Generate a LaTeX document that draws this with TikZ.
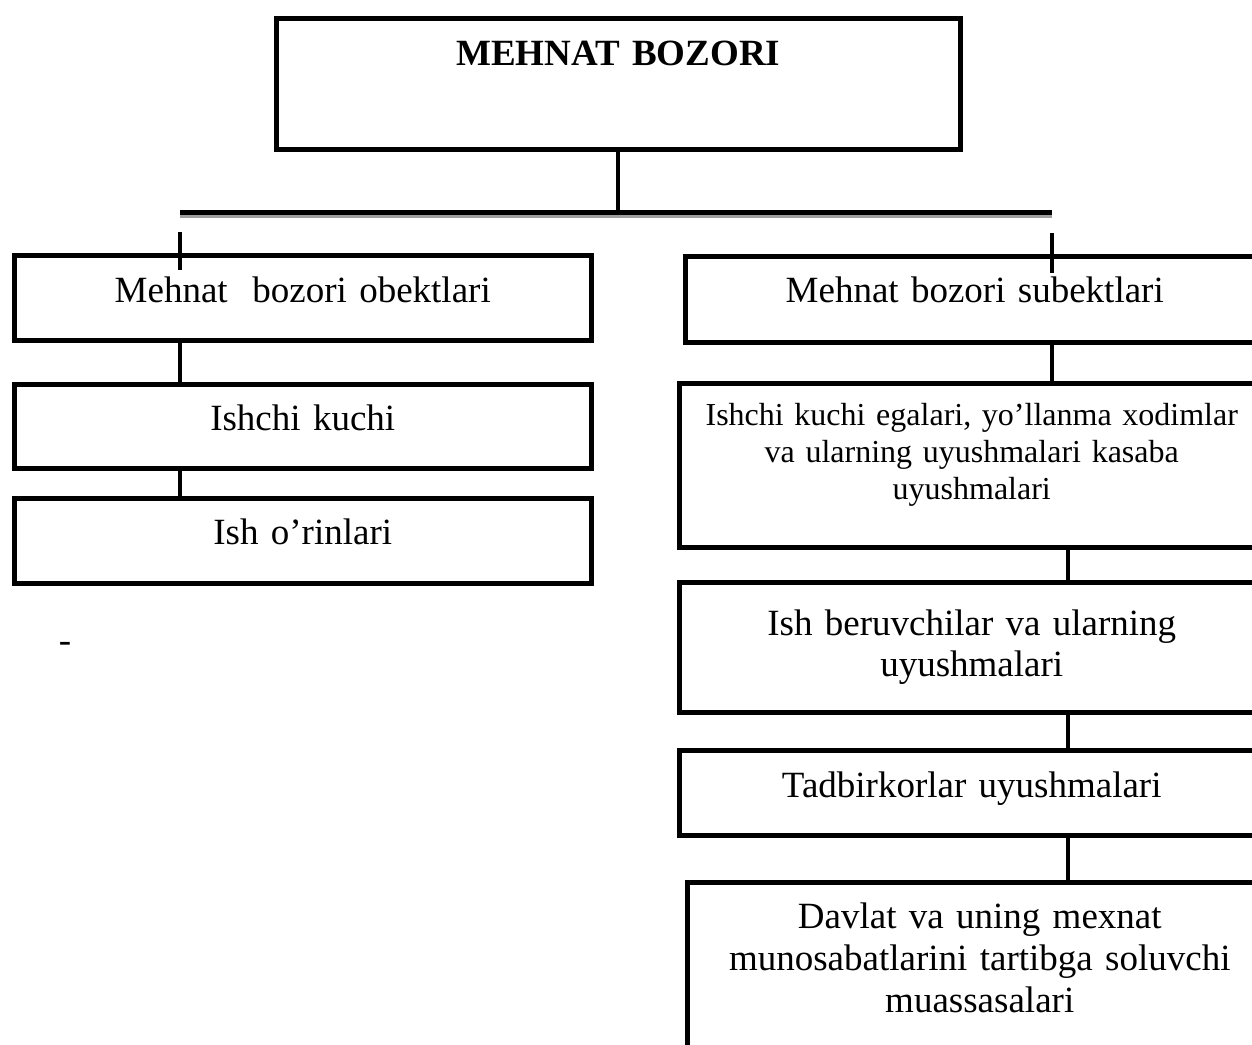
\documentclass[tikz,border=0pt]{standalone}
\usepackage{fontspec}
\setmainfont{Liberation Serif}
\usetikzlibrary{calc}
\tikzset{every path/.style={black, line width=4pt},
  every node/.style={inner sep=0pt, font=\fontsize{37}{41}\selectfont},
  box/.style={draw, line width=4.5pt, align=center, anchor=north west},
  link/.style={line width=4pt},
  bar/.style={line width=5pt},
  barshadow/.style={gray!75, line width=4pt}}

\begin{document}
\begin{tikzpicture}[x=1pt,y=-1pt]
   \useasboundingbox (0,0) rectangle (1252,1044);
   \node[box, text width=684pt, text height=47pt, text depth=84pt, font=\fontsize{37}{41}\selectfont\bfseries] (mb) at (274,16) {MEHNAT BOZORI};
   \coordinate (barL) at (180,212);
   \coordinate (barR) at (1052,212);
   \coordinate (spine) at (1068,0);
   \draw[barshadow] ($(barL)+(0,4)$) -- ($(barR)+(0,4)$);
   \draw[bar] (barL) -- (barR);
   \draw[link] (mb.south) -- (mb.south |- barL);
   \begin{scope}
    \node[box, text width=577pt, text height=47pt, text depth=38pt] (ob) at (12,253) {Mehnat~ bozori obektlari};
    \node[box, text width=577pt, text height=46pt, text depth=38pt] (ik) at (12,382) {Ishchi kuchi};
    \node[box, text width=577pt, text height=46pt, text depth=39pt] (io) at (12,496) {Ish o’rinlari};
    \draw[link] ($(barL |- ob.north)+(0,-21)$) -- ($(barL |- ob.north)+(0,17)$);
    \draw[link] (barL |- ob.south) -- (barL |- ik.north);
    \draw[link] (barL |- ik.south) -- (barL |- io.north);
    \node[anchor=base] (dash) at (65,652) {-};
   \end{scope}
   \begin{scope}
    \node[box, text width=579pt, text height=46pt, text depth=40pt] (sb) at (683,254) {Mehnat bozori subektlari};
    \node[box, text width=585pt, text height=42pt, text depth=122pt, font=\fontsize{32}{37}\selectfont] (ie) at (677,381) {Ishchi kuchi egalari, yo’llanma xodimlar\\ va ularning uyushmalari kasaba\\ uyushmalari};
    \node[box, text width=585pt, text height=53pt, text depth=77pt] (ib) at (677,580) {Ish beruvchilar va ularning\\ uyushmalari};
    \node[box, text width=585pt, text height=47pt, text depth=38pt] (tu) at (677,748) {Tadbirkorlar uyushmalari};
    \node[box, text width=585pt, text height=46pt, text depth=144pt, font=\fontsize{37}{42}\selectfont] (dm) at (685,880) {Davlat va uning mexnat\\ munosabatlarini tartibga soluvchi\\ muassasalari};
    \draw[link] ($(barR |- sb.north)+(0,-21)$) -- ($(barR |- sb.north)+(0,19)$);
    \draw[link] (barR |- sb.south) -- (barR |- ie.north);
    \draw[link] (spine |- ie.south) -- (spine |- ib.north);
    \draw[link] (spine |- ib.south) -- (spine |- tu.north);
    \draw[link] (spine |- tu.south) -- (spine |- dm.north);
   \end{scope}
\end{tikzpicture}
\end{document}
